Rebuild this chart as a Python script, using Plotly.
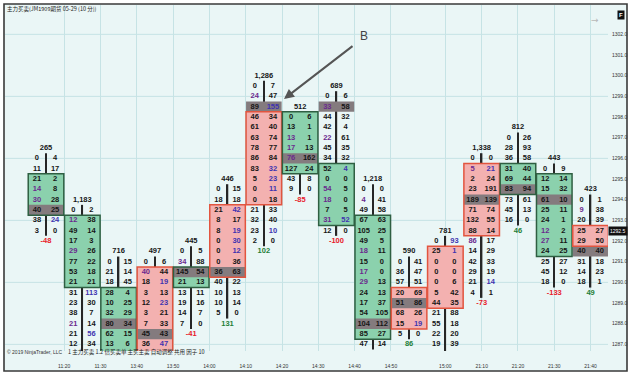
import plotly.graph_objects as go

# ---------------- data ----------------
time_labels = ["11:20", "11:30", "13:40", "13:50", "14:00", "14:10", "14:20", "14:30",
               "14:40", "14:50", "15:00", "21:10", "21:20", "21:30", "21:40"]

volumes = [265, 1183, 716, 497, 445, 446, 1286, 512, 689, 1218, 590, 781, 1338, 812, 443, 423]

# price of the top row of each bar (tick = 0.5)
top_prices = [1296.0, 1293.5, 1291.0, 1291.0, 1291.5, 1294.5, 1299.5, 1298.0,
              1299.0, 1294.5, 1291.0, 1292.0, 1296.0, 1297.0, 1295.5, 1294.0]

# bar lows (bars 1, 2, 3, 11 continue below the visible window)
lows = [1292.5, 1286.0, 1286.0, 1286.0, 1288.0, 1288.5, 1292.0, 1294.5,
        1292.5, 1287.0, 1287.5, 1286.0, 1289.5, 1293.0, 1290.0, 1290.0]

bids = [
    [0, 11, 21, 14, 30, 40, 38, 3],
    [0, 12, 49, 17, 29, 77, 53, 21, 31, 23, 38, 21, 21, 12],
    [0, 21, 18, 28, 10, 32, 80, 62, 13],
    [0, 40, 18, 3, 12, 3, 7, 45, 36],
    [0, 34, 145, 21, 13, 19, 14, 7],
    [0, 18, 21, 8, 8, 0, 0, 0, 36, 40, 10, 10, 5],
    [0, 24, 89, 46, 61, 63, 78, 86, 83, 5, 0, 0, 21, 32, 23, 2],
    [0, 13, 13, 17, 76, 127, 43, 9],
    [0, 33, 44, 42, 22, 45, 34, 52, 0, 54, 18, 7, 31, 12],
    [0, 4, 49, 67, 105, 49, 18, 15, 17, 29, 24, 17, 54, 104, 85, 47],
    [0, 36, 57, 20, 51, 68, 15, 5],
    [0, 25, 0, 0, 0, 5, 44, 21, 55, 22, 19],
    [0, 5, 2, 23, 189, 71, 132, 88, 86, 14, 42, 29, 21, 4],
    [0, 28, 36, 31, 69, 83, 73, 45, 16],
    [0, 12, 15, 61, 25, 24, 12, 27, 24, 25, 45, 18],
    [0, 9, 20, 25, 29, 40, 31, 14, 18],
]
asks = [
    [4, 17, 2, 8, 28, 25, 24, 0],
    [2, 38, 14, 3, 26, 22, 18, 21, 113, 30, 7, 14, 56, 34],
    [15, 14, 45, 4, 25, 29, 34, 15, 6],
    [6, 44, 19, 13, 23, 21, 33, 43, 47],
    [5, 88, 54, 13, 11, 16, 7, 0],
    [15, 18, 42, 17, 19, 30, 12, 36, 63, 22, 13, 14, 0],
    [7, 47, 155, 34, 40, 74, 77, 84, 32, 23, 11, 18, 33, 40, 10, 0],
    [6, 1, 1, 13, 162, 24, 8, 0],
    [6, 58, 32, 4, 61, 35, 32, 4, 0, 5, 0, 5, 52, 0],
    [0, 41, 58, 63, 25, 5, 11, 0, 0, 13, 13, 37, 105, 112, 27, 14],
    [41, 47, 51, 69, 86, 26, 19, 0],
    [93, 1, 0, 0, 6, 42, 35, 88, 18, 20, 39],
    [0, 21, 24, 191, 139, 74, 55, 14, 17, 29, 33, 19, 14, 1],
    [26, 93, 58, 40, 44, 94, 61, 13, 0],
    [9, 14, 32, 10, 11, 1, 2, 11, 25, 27, 12, 0],
    [1, 38, 39, 27, 50, 40, 18, 23, 1],
]

# body (open/close range) of each bar
body_top = [1295.0, 1293.0, 1289.5, 1290.5, 1290.5, 1293.5, 1298.0, 1298.0,
            1295.5, 1293.0, 1289.5, 1291.5, 1295.5, 1295.5, 1295.0, 1292.5]
body_bottom = [1293.5, 1290.0, 1286.5, 1286.5, 1290.0, 1290.5, 1294.0, 1295.5,
               1293.0, 1287.5, 1288.0, 1289.0, 1292.5, 1294.5, 1291.5, 1292.0]
direction = ["down", "down", "down", "up", "down", "up", "up", "down",
             "down", "down", "up", "up", "up", "down", "down", "up"]

# point of control (max volume row), None = below the visible window
poc_prices = [1293.5, None, 1288.0, 1287.5, 1290.5, 1290.5, 1298.5, 1296.0,
              1298.5, 1288.0, 1289.0, None, 1294.0, 1294.5, 1294.0, 1291.5]

deltas = [-48, None, None, None, -41, 131, 102, -85, -100, None, 86, None, -73, 46, -133, 49]

# imbalance-highlighted rows (row index from the top)
bid_highlight = [[3, 4], [1, 4, 11], [], [1], [1], [], [1], [2, 3, 4], [1, 4, 9, 10, 12],
                 [1, 6, 8, 9], [], [], [1, 8], [], [6, 7], [1]]
ask_highlight = [[6], [8, 12], [], [2, 4, 8], [], [2, 4, 5, 6], [2, 8, 9, 10, 14], [], [7, 12],
                 [], [6], [0, 1], [1, 12], [], [], []]

# ---------------- styles ----------------
TICK = 0.5
GREEN_FILL = "#8bd1ad"
RED_FILL = "#f3b1b0"
GRAY_FILL = "#847b7e"
GREEN_EDGE = "#2f5f42"
RED_EDGE = "#e2553f"
TXT = "#161616"
BID_HL = "#6a2a8e"
ASK_HL = "#3f34b0"
NUM_FONT = "Liberation Sans Narrow, Arial Narrow, Liberation Sans, Arial"
BG = "#eaf6f6"
GRID = "#c6e3e5"

n = len(volumes)
idx = list(range(n))

fig = go.Figure()

# wicks (drawn first, covered by bodies and POC rows)
fig.add_trace(go.Bar(
    x=idx, base=[lo - TICK / 2 for lo in lows],
    y=[t - lo + TICK for t, lo in zip(top_prices, lows)],
    width=0.04, marker=dict(color="#262626", line=dict(width=0)), hoverinfo="skip"))

# body fill
fig.add_trace(go.Bar(
    x=idx, base=[b - TICK / 2 for b in body_bottom],
    y=[t - b + TICK for t, b in zip(body_top, body_bottom)],
    width=0.98,
    marker=dict(color=[GREEN_FILL if d == "down" else RED_FILL for d in direction],
                line=dict(width=0)), hoverinfo="skip"))

# POC rows
poc_x = [i for i in idx if poc_prices[i] is not None]
fig.add_trace(go.Bar(
    x=poc_x, base=[poc_prices[i] - TICK / 2 for i in poc_x], y=[TICK] * len(poc_x),
    width=0.98, marker=dict(color=GRAY_FILL, line=dict(width=0)), hoverinfo="skip"))

# body outline
fig.add_trace(go.Bar(
    x=idx, base=[b - TICK / 2 for b in body_bottom],
    y=[t - b + TICK for t, b in zip(body_top, body_bottom)],
    width=0.98,
    marker=dict(color="rgba(0,0,0,0)",
                line=dict(width=1.5,
                          color=[GREEN_EDGE if d == "down" else RED_EDGE for d in direction])),
    hoverinfo="skip"))

# cell numbers
groups = {TXT: ([], [], []), BID_HL: ([], [], []), ASK_HL: ([], [], [])}
for i in idx:
    for r, (b, a) in enumerate(zip(bids[i], asks[i])):
        p = top_prices[i] - r * TICK
        cb = BID_HL if r in bid_highlight[i] else TXT
        ca = ASK_HL if r in ask_highlight[i] else TXT
        groups[cb][0].append(i - 0.25); groups[cb][1].append(p); groups[cb][2].append(str(b))
        groups[ca][0].append(i + 0.25); groups[ca][1].append(p); groups[ca][2].append(str(a))
for col, (xs, ys, ts) in groups.items():
    fig.add_trace(go.Scatter(x=xs, y=ys, text=ts, mode="text", textposition="middle center",
                             textfont=dict(family=NUM_FONT, size=7.5, color=col, weight="bold"),
                             hoverinfo="skip"))

# volume headers
fig.add_trace(go.Scatter(
    x=idx, y=[t + TICK for t in top_prices], text=[f"{v:,}" for v in volumes],
    mode="text", textfont=dict(family=NUM_FONT, size=7.5, color=TXT, weight="bold"),
    hoverinfo="skip"))

# deltas
for sign, col in ((-1, "#e8202a"), (1, "#1f7f38")):
    dx = [i for i in idx if deltas[i] is not None and (deltas[i] < 0) == (sign < 0)]
    fig.add_trace(go.Scatter(
        x=dx, y=[lows[i] - TICK for i in dx], text=[str(deltas[i]) for i in dx],
        mode="text", textfont=dict(family=NUM_FONT, size=7.5, color=col, weight="bold"),
        hoverinfo="skip"))

# ---------------- layout ----------------
L, R, T, B = 5, 36, 5, 33
W, H = 644, 384
pw, ph = W - L - R, H - T - B


def px_x(x):
    return (x - L) / pw


def px_y(y):
    return (H - B - y) / ph


y_lo, y_hi = 1286.68, 1303.42
grid_prices = list(range(1287, 1303, 3))
label_prices = list(range(1287, 1303))

shapes = [
    dict(type="rect", xref="paper", yref="paper", x0=px_x(4), x1=px_x(627), y0=px_y(371), y1=px_y(4),
         fillcolor=BG, line=dict(width=0), layer="below"),
    dict(type="rect", xref="paper", yref="paper", x0=px_x(4), x1=px_x(627), y0=px_y(371), y1=px_y(4),
         fillcolor="rgba(0,0,0,0)", line=dict(width=1.6, color="#3a3a3a"), layer="above"),
]
for gp in grid_prices:
    shapes.append(dict(type="line", xref="paper", yref="y", x0=0, x1=1, y0=gp, y1=gp,
                       line=dict(color=GRID, width=1), layer="below"))

last_close = body_top[-1] if direction[-1] == "up" else body_bottom[-1]

annotations = [
    dict(xref="paper", yref="paper", x=px_x(5), y=px_y(9), xanchor="left", yanchor="middle",
         text="主力买卖(JM1909期货 05-29 (10 分))", showarrow=False,
         font=dict(family="Noto Sans CJK SC", size=5.5, color="#222")),
    dict(xref="paper", yref="paper", x=px_x(5), y=px_y(352), xanchor="left", yanchor="middle",
         text="© 2019 NinjaTrader, LLC", showarrow=False,
         font=dict(family="Liberation Sans", size=5, color="#333")),
    dict(xref="paper", yref="paper", x=px_x(66), y=px_y(352), xanchor="left", yanchor="middle",
         text="1 主力买卖 1.2 倍买卖单 主买主卖 自动调整 共用 因子 10", showarrow=False,
         font=dict(family="Noto Sans CJK SC", size=5.5, color="#222")),
    dict(xref="paper", yref="paper", x=px_x(364), y=px_y(36), text="B", showarrow=False,
         xanchor="center", yanchor="middle",
         font=dict(family="Liberation Sans", size=12, color="#444")),
    dict(xref="paper", yref="paper", x=px_x(284), y=px_y(99), text="", showarrow=True,
         ax=70, ay=-54, arrowhead=2, arrowsize=1, arrowwidth=2, arrowcolor="#555"),
    dict(xref="paper", yref="paper", x=px_x(625), y=px_y(10), text="<b>F</b>", showarrow=False,
         bgcolor="#111", font=dict(family="Liberation Sans", size=6, color="white"), borderpad=1),
    dict(xref="paper", yref="paper", x=px_x(601), y=px_y(13), text="→", showarrow=False,
         font=dict(family="DejaVu Sans", size=9, color="#b8b8b8")),
    dict(xref="paper", yref="y", x=1.0, y=last_close, xanchor="left", yanchor="middle",
         text=f"{last_close:.1f}", showarrow=False, bgcolor="#111", borderpad=1,
         font=dict(family="Liberation Sans", size=5, color="white")),
]

fig.update_layout(
    width=W, height=H, margin=dict(l=L, r=R, t=T, b=B),
    paper_bgcolor="white", plot_bgcolor=BG,
    barmode="overlay", showlegend=False, hovermode=False,
    shapes=shapes, annotations=annotations,
    xaxis=dict(range=[-1.13, 15.48], tickvals=[0.5, 1.5, 2.5, 3.5, 4.5, 5.5, 6.5, 7.5, 8.5, 9.5,
                                              11, 12, 13, 14, 15],
               ticktext=time_labels, showgrid=True, gridcolor=GRID, gridwidth=1, zeroline=False,
               showline=False, ticks="", ticklabelstandoff=11,
               tickfont=dict(family="Liberation Sans", size=5, color="#333"), fixedrange=True),
    yaxis=dict(range=[y_lo, y_hi], side="right", tickvals=label_prices,
               ticktext=[f"{p:.1f}" for p in label_prices], showgrid=False, zeroline=False,
               showline=False, ticks="", ticklabelstandoff=3,
               tickfont=dict(family="Liberation Sans", size=5, color="#333"), fixedrange=True),
)

fig.write_html("out.html")
